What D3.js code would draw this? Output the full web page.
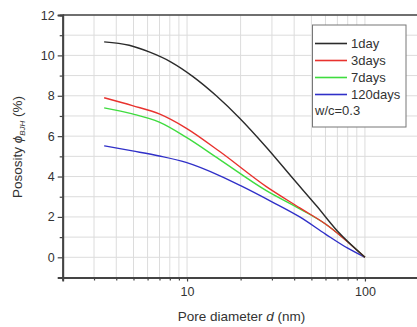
<!DOCTYPE html>
<html><head><meta charset="utf-8">
<script src="https://cdn.jsdelivr.net/npm/d3@7"></script>
<style>
body{margin:0;background:#fff;}
text{font-family:"Liberation Sans",Arial,sans-serif;fill:#333;}
</style></head>
<body><svg id="c" width="417" height="327"></svg>
<script>
const seriesNames = ["1day","3days","7days","120days"];
const seriesColors = ["#2b2b2b","#e8322e","#3fdc3f","#3030c8"];
const d1day = [[3.42,10.67],[4.73,10.50],[6.12,10.17],[8.13,9.67],[10.8,8.95],[14.6,8.0],[19.7,6.9],[27.9,5.45],[39.4,3.9],[53.4,2.55],[70,1.3],[100,0]];
const d3days = [[3.42,7.90],[4.93,7.51],[6.98,7.10],[9.87,6.40],[15.2,5.25],[27.9,3.5],[43.0,2.45],[60,1.65],[100,0]];
const d7days = [[3.42,7.40],[4.93,7.10],[6.98,6.69],[9.87,5.95],[15.2,4.85],[27.9,3.3],[43.0,2.4],[60,1.65],[100,0]];
const d120days = [[3.42,5.52],[4.93,5.27],[6.98,5.02],[9.87,4.70],[15.2,4.05],[20,3.55],[30,2.75],[43.0,2.0],[60,1.15],[80,0.45],[100,0]];
const seriesData = [d1day,d3days,d7days,d120days];
const yMajor = [0,2,4,6,8,10,12];
const yMinor = [-1,1,3,5,7,9,11];
const xMajor = [10,100];
const xMinor = [2,3,4,5,6,7,8,9,20,30,40,50,60,70,80,90,200];
const legendNote = "w/c=0.3";

const svg = d3.select("#c");
const x = d3.scaleLog().domain([2,200]).range([62.7,418.5]);
const y = d3.scaleLinear().domain([-1,12]).range([277.5,15]);

// grid
const grid = svg.append("g").attr("stroke","#dcdcdc").attr("stroke-width",1);
xMinor.concat(xMajor).forEach(v=>{
  grid.append("line").attr("x1",x(v)).attr("x2",x(v)).attr("y1",y(12)).attr("y2",y(-1));
});
yMajor.concat(yMinor).forEach(v=>{
  grid.append("line").attr("x1",x(2)).attr("x2",x(200)).attr("y1",y(v)).attr("y2",y(v));
});

// top frame
svg.append("line").attr("x1",x(2)).attr("x2",417).attr("y1",y(12)).attr("y2",y(12))
  .attr("stroke","#444").attr("stroke-width",1.5);

// y axis
const yAx = svg.append("g").attr("transform",`translate(${x(2)},0)`)
  .call(d3.axisLeft(y).tickValues(yMajor).tickSize(5).tickPadding(3).tickFormat(d3.format("d")));
const yAxm = svg.append("g").attr("transform",`translate(${x(2)},0)`)
  .call(d3.axisLeft(y).tickValues(yMinor).tickSize(3).tickFormat(""));
// x axis
const xAx = svg.append("g").attr("transform",`translate(0,${y(-1)})`)
  .call(d3.axisBottom(x).tickValues(xMajor).tickSize(4).tickPadding(6).tickFormat(d3.format("d")));
const xAxm = svg.append("g").attr("transform",`translate(0,${y(-1)})`)
  .call(d3.axisBottom(x).tickValues(xMinor).tickSize(3).tickFormat(""));
[yAx,yAxm,xAx,xAxm].forEach(g=>{
  g.select(".domain").attr("stroke","#444").attr("stroke-width",1.8);
  g.selectAll(".tick line").attr("stroke","#444").attr("stroke-width",1.2);
  g.selectAll("text").attr("font-size",12.5).attr("fill","#333").attr("font-family","Liberation Sans,Arial,sans-serif");
});

// lines
const line = d3.line().x(d=>x(d[0])).y(d=>y(d[1])).curve(d3.curveMonotoneX);
const order = [3,2,1,0];
order.forEach(i=>{
  svg.append("path").datum(seriesData[i]).attr("d",line)
    .attr("fill","none").attr("stroke",seriesColors[i]).attr("stroke-width",1.4);
});

// axis titles
const xt = svg.append("text").attr("x",241.5).attr("y",321).attr("text-anchor","middle").attr("font-size",13.5);
xt.append("tspan").text("Pore diameter ");
xt.append("tspan").attr("font-style","italic").text("d");
xt.append("tspan").text(" (nm)");

const yt = svg.append("text").attr("transform","translate(22,147) rotate(-90)").attr("text-anchor","middle").attr("font-size",13.5);
yt.append("tspan").text("Pososity ");
yt.append("tspan").attr("font-style","italic").text("\u03d5");
yt.append("tspan").attr("font-style","italic").attr("font-size",8).attr("dy",3).text("BJH");
yt.append("tspan").attr("dy",-3).text(" (%)");

// legend
const lg = svg.append("g");
lg.append("rect").attr("x",312.5).attr("y",25).attr("width",93.5).attr("height",102)
  .attr("fill","#fff").attr("stroke","#777").attr("stroke-width",1);
seriesNames.forEach((n,i)=>{
  const cy = 43.5 + i*17;
  lg.append("line").attr("x1",315).attr("x2",347).attr("y1",cy).attr("y2",cy)
    .attr("stroke",seriesColors[i]).attr("stroke-width",1.6);
  lg.append("text").attr("x",351).attr("y",cy+4.5).attr("font-size",13).text(n);
});
lg.append("text").attr("x",315).attr("y",115).attr("font-size",13).text(legendNote);
</script></body></html>
